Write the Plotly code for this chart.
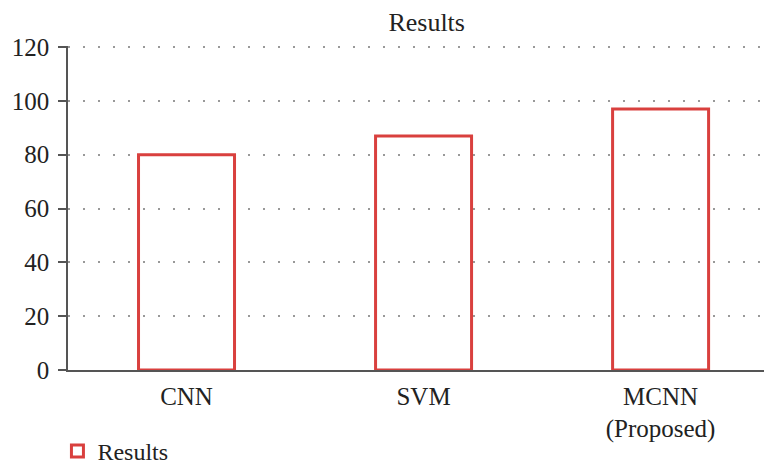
import plotly.graph_objects as go

categories = ["CNN", "SVM", "MCNN<br>(Proposed)"]
values = [80, 87, 97]
y_ticks = [0, 20, 40, 60, 80, 100, 120]

fig = go.Figure()
fig.add_trace(go.Bar(
    x=categories, y=values, name="Results",
    marker=dict(color="rgba(255,255,255,0)", line=dict(color="#d9403e", width=3)),
    width=0.405,
))

# page body has an 8px margin, so the figure is sized to the visible area
fig.update_layout(
    width=764, height=457,
    margin=dict(l=60, r=0, t=38, b=95, autoexpand=False),
    paper_bgcolor="white", plot_bgcolor="white",
    font=dict(family="Liberation Serif, DejaVu Serif, serif", size=25, color="#222"),
    title=dict(text="Results", x=0.548, xanchor="center", y=0.97, yanchor="middle",
               font=dict(size=26, color="#222")),
    showlegend=True,
    legend=dict(orientation="h", x=-0.015, xanchor="left", y=-0.251, yanchor="middle",
                font=dict(size=24), itemwidth=30),
    bargap=0.6,
)
fig.update_xaxes(
    range=[-0.5, 2.47], showgrid=False, showline=True, linecolor="#555", linewidth=1.5,
    ticks="", tickfont=dict(size=25), zeroline=False, ticklabelstandoff=3,
)
fig.update_yaxes(
    range=[0, 120.4], tickvals=y_ticks, showline=True, linecolor="#555", linewidth=1.5,
    ticks="outside", ticklen=8, tickcolor="#555", tickwidth=1.5,
    showgrid=True, gridcolor="#999", griddash="2px,13px", gridwidth=1.5, zeroline=False,
    tickfont=dict(size=25), ticklabelstandoff=4,
)

fig.write_html("out.html")
